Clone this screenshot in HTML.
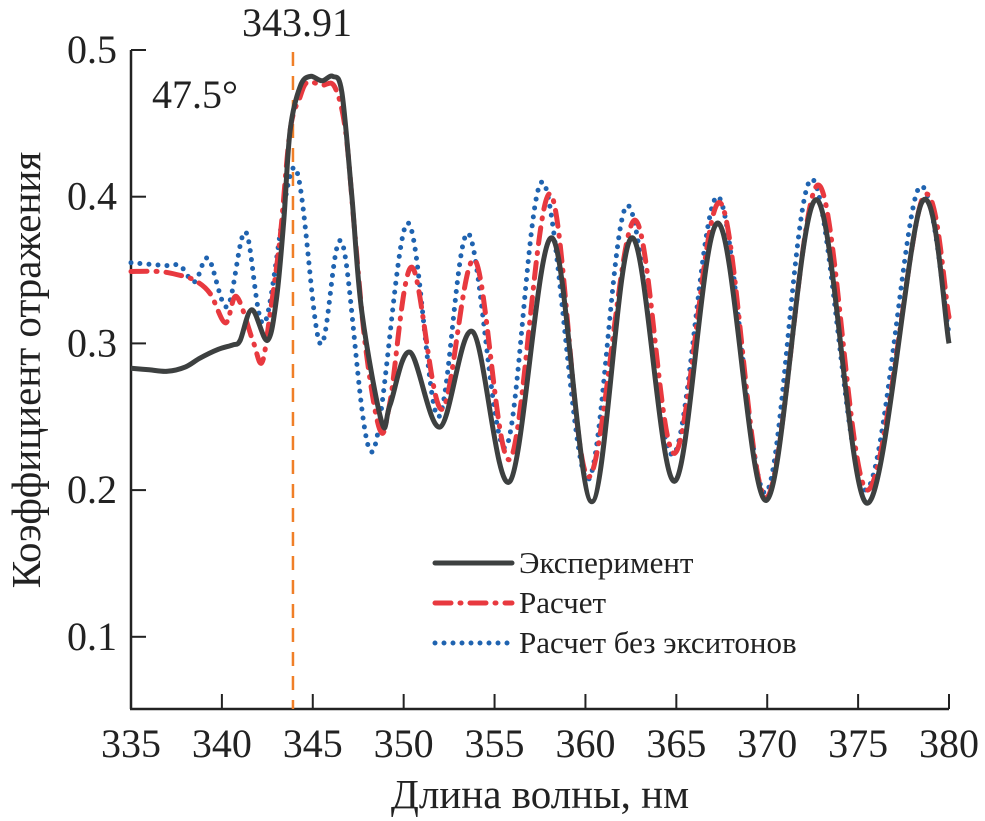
<!DOCTYPE html>
<html><head><meta charset="utf-8"><style>
body{margin:0;background:#fff}
svg{display:block}
svg text{font-family:"Liberation Serif","Times New Roman",Times,"DejaVu Serif",serif !important;fill:#222}
</style></head><body>
<svg id="chart" width="985" height="821" viewBox="0 0 985 821">
<g id="plot"></g>
</svg>
<script>
const xTicks=[335,340,345,350,355,360,365,370,375,380];
const yTicks=[0.1,0.2,0.3,0.4,0.5];
const markerWl=343.91;
const expX=[335,336,337,338,338.8,339.8,340.6,341,341.65,342.5,343,343.4,343.75,344.3,344.85,345.5,346.1,346.6,347.15,347.7,348.8,349.25,350.35,352.0,353.8,355.85,358.15,360.35,362.55,364.9,367.3,369.95,372.7,375.5,378.5,380];
const expY=[0.283,0.282,0.281,0.284,0.290,0.296,0.299,0.302,0.323,0.302,0.33,0.383,0.445,0.475,0.482,0.479,0.482,0.471,0.40,0.321,0.246,0.258,0.294,0.243,0.308,0.206,0.372,0.192,0.372,0.206,0.382,0.193,0.398,0.191,0.396,0.30];
const calcX=[335,336.5,337.5,338.5,339.35,340.2,340.8,341.7,342.2,342.65,343.2,343.75,344.3,344.7,345.5,346.2,346.8,347.3,347.9,348.7,349.25,350.45,352.1,353.9,355.85,358.05,360.15,362.7,364.9,367.4,369.95,372.8,375.5,378.55,380];
const calcY=[0.349,0.349,0.347,0.343,0.334,0.314,0.332,0.302,0.287,0.32,0.372,0.445,0.468,0.478,0.476,0.475,0.445,0.377,0.298,0.241,0.26,0.352,0.255,0.357,0.221,0.402,0.209,0.384,0.225,0.396,0.195,0.408,0.20,0.399,0.318];
const noExX=[335,337,337.7,338.5,339.25,340.3,341.3,342.35,344.0,345.4,346.6,348.25,350.2,351.9,353.55,355.6,357.65,360.1,362.3,364.8,367.3,369.9,372.45,375.4,378.3,380];
const noExY=[0.355,0.353,0.353,0.342,0.358,0.325,0.376,0.314,0.42,0.30,0.369,0.226,0.382,0.25,0.375,0.229,0.41,0.207,0.394,0.224,0.40,0.198,0.412,0.20,0.405,0.307];

const NS='http://www.w3.org/2000/svg';
const g=document.getElementById('plot');
const X0=131,X1=949,Y0=709,YTOP=50;
const xs=v=>X0+(v-335)/(380-335)*(X1-X0);
const ys=v=>50+(0.5-v)*1467;
function el(t,a,txt){const e=document.createElementNS(NS,t);for(const k in a)e.setAttribute(k,a[k]);if(txt!==undefined)e.textContent=txt;g.appendChild(e);return e;}
function smooth(X,Y){
  const p=X.map((x,i)=>[xs(x),ys(Y[i])]);
  let d='M'+p[0][0].toFixed(1)+','+p[0][1].toFixed(1);
  for(let i=0;i<p.length-1;i++){
    const a=p[i-1]||p[i],b=p[i],c=p[i+1],e=p[i+2]||c;
    const c1=[b[0]+(c[0]-a[0])/6,b[1]+(c[1]-a[1])/6],c2=[c[0]-(e[0]-b[0])/6,c[1]-(e[1]-b[1])/6];
    d+='C'+c1.map(v=>v.toFixed(1))+' '+c2.map(v=>v.toFixed(1))+' '+c[0].toFixed(1)+','+c[1].toFixed(1);
  }
  return d;
}
let a;
a=el('line',{x1:X0,y1:YTOP,x2:X0,y2:Y0,stroke:'#222','stroke-width':2.5});

a=el('line',{x1:X0-1,y1:Y0,x2:X1,y2:Y0,stroke:'#222','stroke-width':2.5});

xTicks.forEach(v=>{
  const t=el('line',{x1:xs(v),y1:Y0,x2:xs(v),y2:Y0-15,stroke:'#222','stroke-width':2});
  
  const l=el('text',{x:xs(v),y:757,'text-anchor':'middle','font-size':40},String(v));
  
});
yTicks.forEach(v=>{
  const t=el('line',{x1:X0,y1:ys(v),x2:X0+15,y2:ys(v),stroke:'#222','stroke-width':2});
  
  const l=el('text',{x:117,y:ys(v)+13,'text-anchor':'end','font-size':40},v.toFixed(1));
  
});
a=el('line',{x1:xs(markerWl),y1:52,x2:xs(markerWl),y2:Y0,stroke:'#f07f28','stroke-width':2.5,'stroke-dasharray':'14 10'});

a=el('text',{x:xs(markerWl)+4,y:36,'text-anchor':'middle','font-size':40},String(markerWl));

a=el('text',{x:152,y:108,'font-size':40},'47.5°');

a=el('path',{d:smooth(noExX,noExY),fill:'none',stroke:'#1f63b0','stroke-width':5,'stroke-linecap':'round','stroke-dasharray':'0 9'});

a=el('path',{d:smooth(calcX,calcY),fill:'none',stroke:'#e8393f','stroke-width':5,'stroke-linecap':'round','stroke-dasharray':'16 9 1 9'});

a=el('path',{d:smooth(expX,expY),fill:'none',stroke:'#3d4040','stroke-width':5,'stroke-linejoin':'round'});

const leg=[['Эксперимент','#3d4040',{}],['Расчет','#e8393f',{'stroke-dasharray':'16 9 1 9'}],['Расчет без экситонов','#1f63b0',{'stroke-dasharray':'0 9'}]];
leg.forEach((L,i)=>{
  const y=563+i*40;
  const attrs={x1:435,y1:y,x2:512,y2:y,stroke:L[1],'stroke-width':5,'stroke-linecap':'round'};
  Object.assign(attrs,L[2]);
  const ln=el('line',attrs);
  
  const tx=el('text',{x:519,y:y+10,'font-size':31},L[0]);
  
});
a=el('text',{x:540,y:808,'text-anchor':'middle','font-size':41},'Длина волны, нм');

a=el('text',{x:0,y:0,'text-anchor':'middle','font-size':41,transform:'translate(40,370) rotate(-90)'},'Коэффициент отражения');

</script>
</body></html>
